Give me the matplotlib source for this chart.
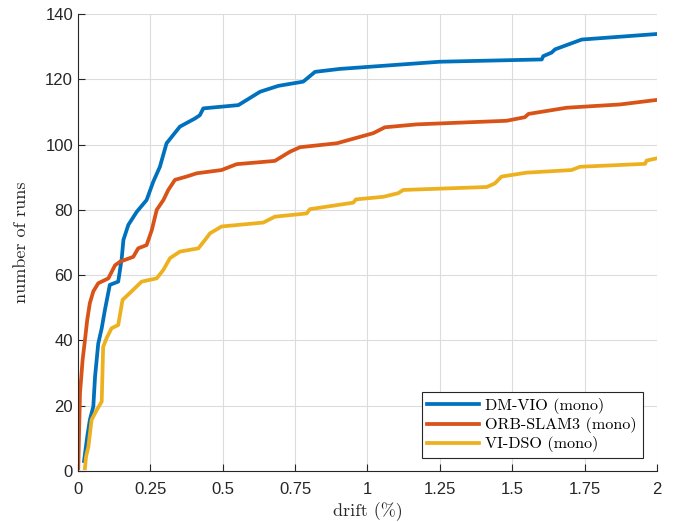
import matplotlib
matplotlib.use("Agg")
import matplotlib.pyplot as plt

# DM-VIO (mono)
dm_x = [0.021, 0.032, 0.041, 0.053, 0.059, 0.070, 0.082, 0.093, 0.110, 0.139, 0.151, 0.157,
        0.174, 0.203, 0.237, 0.260, 0.283, 0.306, 0.352, 0.404, 0.421, 0.433, 0.554, 0.629,
        0.692, 0.778, 0.819, 0.905, 1.25, 1.602, 1.607, 1.636, 1.648, 1.74, 2.0]
dm_y = [3, 10.5, 15.6, 19.7, 28.9, 39, 43.7, 49.3, 57, 58, 65, 70.8,
        75.4, 79.4, 83, 88.6, 93.2, 100.4, 105.5, 108, 109, 111.1, 112.1, 116.2,
        118, 119.3, 122.3, 123.2, 125.4, 126.1, 127.1, 128.2, 129.2, 132.2, 133.9]

# ORB-SLAM3 (mono)
orb_x = [0.001, 0.007, 0.016, 0.024, 0.032, 0.041, 0.053, 0.070, 0.105, 0.128, 0.145, 0.191,
         0.208, 0.237, 0.255, 0.272, 0.295, 0.312, 0.335, 0.375, 0.41, 0.496, 0.548, 0.68,
         0.732, 0.767, 0.894, 1.02, 1.06, 1.17, 1.48, 1.544, 1.556, 1.688, 1.872, 2.0]
orb_y = [0.8, 23.8, 34, 40, 46.3, 51.4, 55, 57.5, 59, 63, 64.1, 65.6,
         68.2, 69.2, 73.8, 80, 83, 86.1, 89.2, 90.2, 91.2, 92.2, 94, 95,
         97.8, 99.2, 100.4, 103.5, 105.3, 106.2, 107.3, 108.4, 109.4, 111.3, 112.3, 113.7]

# VI-DSO (mono)
vi_x = [0.024, 0.028, 0.036, 0.047, 0.065, 0.082, 0.087, 0.099, 0.116, 0.139, 0.154, 0.185,
        0.22, 0.272, 0.295, 0.318, 0.352, 0.416, 0.439, 0.456, 0.496, 0.64, 0.68, 0.79,
        0.801, 0.951, 0.96, 1.055, 1.106, 1.124, 1.412, 1.44, 1.463, 1.55, 1.705, 1.734,
        1.959, 1.964, 2.0]
vi_y = [0.8, 4.4, 7.4, 15.6, 18.7, 21.2, 38, 40.7, 43.7, 44.7, 52.4, 55,
        58, 59, 61.6, 65.2, 67.2, 68.2, 70.8, 72.8, 74.9, 76.1, 77.9, 78.9,
        80.2, 82.2, 83.2, 84, 85.1, 86.1, 87, 88.1, 90.2, 91.4, 92.2, 93.2,
        94.1, 95.1, 95.8]

labels = ["DM-VIO (mono)", "ORB-SLAM3 (mono)", "VI-DSO (mono)"]
colors = ["#0072BD", "#D95319", "#EDB120"]
xticks = [0, 0.25, 0.5, 0.75, 1, 1.25, 1.5, 1.75, 2]
xtick_labels = ["0", "0.25", "0.5", "0.75", "1", "1.25", "1.5", "1.75", "2"]
yticks = [0, 20, 40, 60, 80, 100, 120, 140]

fig = plt.figure(figsize=(6.78, 5.22), dpi=100)
ax = fig.add_axes([0.115, 0.098, 0.854, 0.875])

for xs, ys, lab, c in zip([dm_x, orb_x, vi_x], [dm_y, orb_y, vi_y], labels, colors):
    ax.plot(xs, ys, color=c, lw=2.7, label=lab, solid_joinstyle="round")

ax.set_xlim(0, 2)
ax.set_ylim(0, 140)
ax.set_xticks(xticks)
ax.set_xticklabels(xtick_labels)
ax.set_yticks(yticks)
ax.grid(True, color="#dcdcdc", lw=0.8)
ax.set_axisbelow(True)
for s in ["top", "right"]:
    ax.spines[s].set_visible(False)
for s in ["left", "bottom"]:
    ax.spines[s].set_color("#262626")
    ax.spines[s].set_linewidth(0.8)
ax.tick_params(direction="in", length=5, width=0.8, color="#262626",
               labelcolor="#262626", labelsize=12)
for lbl in ax.get_xticklabels() + ax.get_yticklabels():
    lbl.set_family("Liberation Sans")
ax.tick_params(axis="x", pad=8)

serif = ["cmr10", "DejaVu Serif"]
ax.set_xlabel("drift (%)", fontsize=13, family=serif, color="#262626", labelpad=4)
ax.set_ylabel("number of runs", fontsize=13, family=serif, color="#262626", labelpad=12)

leg = ax.legend(loc="lower right", bbox_to_anchor=(0.975, 0.028), prop={"family": serif, "size": 11.6},
                frameon=True, fancybox=False, edgecolor="#262626", framealpha=1,
                handlelength=3.2, handletextpad=0.4, borderpad=0.35, labelspacing=0.2,
                borderaxespad=0)
leg.get_frame().set_linewidth(0.8)

fig.savefig("out.png", dpi=100)
